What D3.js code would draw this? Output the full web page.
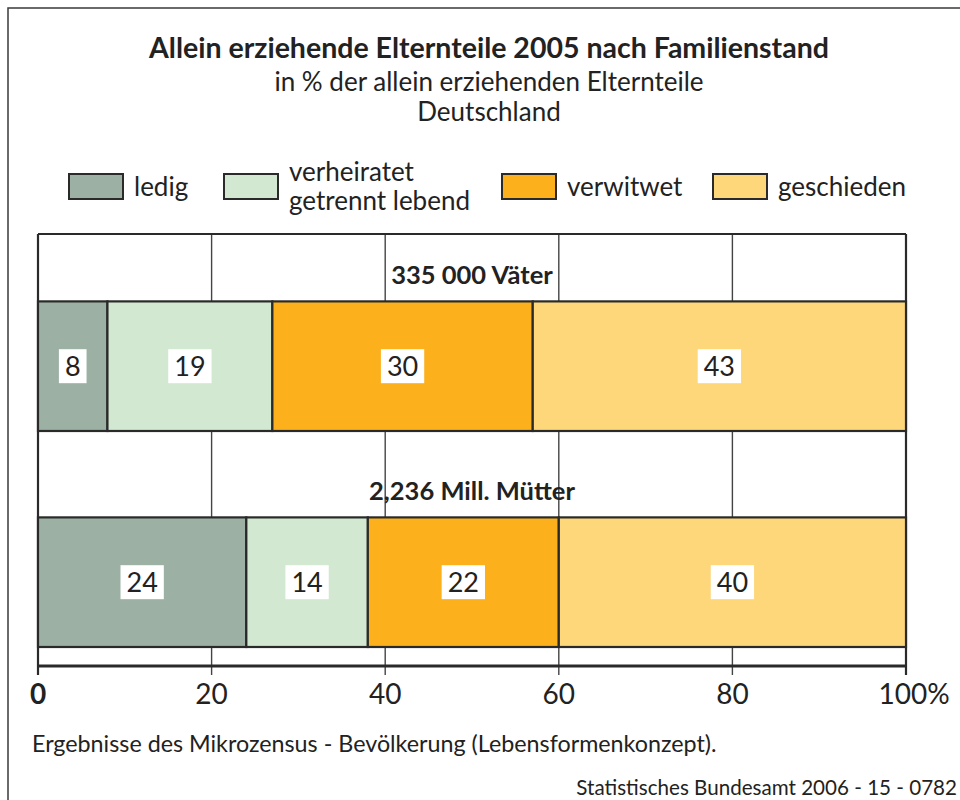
<!DOCTYPE html>
<html><head><meta charset="utf-8">
<script src="https://cdn.jsdelivr.net/npm/d3@7"></script>
<style>
body{margin:0;background:#fff;}
svg{display:block;font-family:Lato,"Open Sans",sans-serif;}
</style></head>
<body>
<svg id="chart" width="960" height="800"></svg>
<script>
const categories = ["ledig", "verheiratet getrennt lebend", "verwitwet", "geschieden"];
const legendLines = [["ledig"], ["verheiratet", "getrennt lebend"], ["verwitwet"], ["geschieden"]];
const groups = ["335 000 Väter", "2,236 Mill. Mütter"];
const vaeter = [8, 19, 30, 43];
const muetter = [24, 14, 22, 40];
const tickValues = [0, 20, 40, 60, 80, 100];
const tickLabels = ["0", "20", "40", "60", "80", "100%"];
const colors = ["#9cb0a4", "#d3e8d0", "#fcb01b", "#fed77b"];

const svg = d3.select("#chart");
const ink = "#2a2a2a";

// outer frame (extends beyond the visible window to the right/bottom)
svg.append("rect").attr("x", 8).attr("y", 8).attr("width", 1100).attr("height", 1100)
  .attr("fill", "none").attr("stroke", "#3a3a3a").attr("stroke-width", 1.5);

// titles
svg.append("text").attr("x", 489).attr("y", 58).attr("text-anchor", "middle")
  .attr("font-size", 28.5).attr("font-weight", "bold").attr("fill", "#222")
  .text("Allein erziehende Elternteile 2005 nach Familienstand");
svg.append("text").attr("x", 489).attr("y", 91).attr("text-anchor", "middle")
  .attr("font-size", 26).attr("fill", "#222").text("in % der allein erziehenden Elternteile");
svg.append("text").attr("x", 489).attr("y", 121).attr("text-anchor", "middle")
  .attr("font-size", 26).attr("fill", "#222").text("Deutschland");

// legend
const legendX = [69, 224, 502, 713];
const lg = svg.append("g");
categories.forEach((c, i) => {
  lg.append("rect").attr("x", legendX[i]).attr("y", 174).attr("width", 54).attr("height", 25)
    .attr("fill", colors[i]).attr("stroke", ink).attr("stroke-width", 2);
  const lines = legendLines[i];
  const t = lg.append("text").attr("font-size", 26).attr("fill", "#222");
  if (lines.length === 1) {
    t.append("tspan").attr("x", legendX[i] + 65).attr("y", 196).text(lines[0]);
  } else {
    t.append("tspan").attr("x", legendX[i] + 65).attr("y", 181).text(lines[0]);
    t.append("tspan").attr("x", legendX[i] + 65).attr("y", 210).text(lines[1]);
  }
});

// scales
const x = d3.scaleLinear().domain([0, 100]).range([38, 906]);
const y = d3.scaleBand().domain(groups).range([234, 666])
  .paddingInner(0.4).paddingOuter(0.2).align(0.78);
const plotTop = 234, axisY = 666, tickEnd = 675;

// gridlines
svg.append("g").selectAll("line").data(tickValues).join("line")
  .attr("x1", d => x(d)).attr("x2", d => x(d))
  .attr("y1", plotTop).attr("y2", tickEnd)
  .attr("stroke", d => (d === 0 || d === 100) ? ink : "#444")
  .attr("stroke-width", d => (d === 0 || d === 100) ? 2.2 : 1.4);

// top border
svg.append("line").attr("x1", x(0)).attr("x2", x(100)).attr("y1", plotTop).attr("y2", plotTop)
  .attr("stroke", ink).attr("stroke-width", 2.2);

// bars
const rows = [vaeter, muetter];
rows.forEach((vals, r) => {
  const g = groups[r];
  let cum = 0;
  const segs = vals.map((v, i) => { const s = {v, i, x0: cum, x1: cum + v}; cum += v; return s; });
  const bg = svg.append("g");
  bg.selectAll("rect").data(segs).join("rect")
    .attr("x", d => x(d.x0)).attr("width", d => x(d.x1) - x(d.x0))
    .attr("y", y(g)).attr("height", y.bandwidth())
    .attr("fill", d => colors[d.i]).attr("stroke", ink).attr("stroke-width", 2.2);
  // value labels with white boxes
  segs.forEach(d => {
    const cx = (x(d.x0) + x(d.x1)) / 2, cy = y(g) + y.bandwidth() / 2;
    const t = bg.append("text").attr("x", cx).attr("y", cy + 9.5).attr("text-anchor", "middle")
      .attr("font-size", 27).attr("fill", "#222").text(d.v);
    const w = t.node().getComputedTextLength() + 12;
    bg.insert("rect", function(){ return t.node(); })
      .attr("x", cx - w / 2).attr("y", cy - 17).attr("width", w).attr("height", 34).attr("fill", "#fff");
  });
  // group label
  svg.append("text").attr("x", x(50)).attr("y", y(g) - 17).attr("text-anchor", "middle")
    .attr("font-size", 25.5).attr("font-weight", "bold").attr("fill", "#222").text(g);
});

// axis line
svg.append("line").attr("x1", x(0)).attr("x2", x(100)).attr("y1", axisY).attr("y2", axisY)
  .attr("stroke", ink).attr("stroke-width", 3);

// tick labels
svg.append("g").selectAll("text").data(tickValues).join("text")
  .attr("x", (d, i) => x(d) + (i === tickValues.length - 1 ? 8 : 0))
  .attr("y", 704).attr("text-anchor", "middle")
  .attr("font-size", 28).attr("fill", "#222")
  .attr("font-weight", (d, i) => i === 0 ? "bold" : "normal")
  .text((d, i) => tickLabels[i]);

// footnotes
svg.append("text").attr("x", 32).attr("y", 752).attr("font-size", 23.3).attr("fill", "#222")
  .text("Ergebnisse des Mikrozensus - Bevölkerung (Lebensformenkonzept).");
svg.append("text").attr("x", 957).attr("y", 795).attr("text-anchor", "end")
  .attr("font-size", 20.6).attr("fill", "#222")
  .text("Statistisches Bundesamt 2006 - 15 - 0782");
</script>
</body></html>
